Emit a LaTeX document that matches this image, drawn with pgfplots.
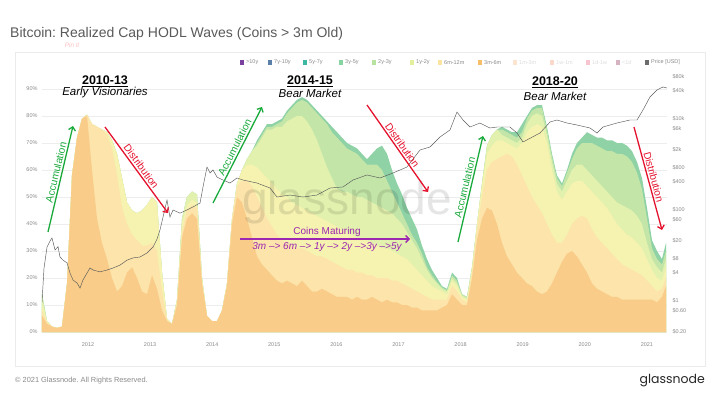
\documentclass[border=0pt]{standalone}
\usepackage{fontspec}
\setmainfont{Liberation Sans}
\newfontfamily\logofont{Poppins}
\usepackage{pgfplots}
\usepackage{pgfplotstable}
\pgfplotsset{compat=1.18}
\usetikzlibrary{arrows.meta}
\frenchspacing

\definecolor{Lc1}{HTML}{F9CC89}
\definecolor{Lc2}{HTML}{FCE4AA}
\definecolor{Lc3}{HTML}{F6F2B0}
\definecolor{Lc4}{HTML}{E2F1AE}
\definecolor{Lc5}{HTML}{C3E6A8}
\definecolor{Lc6}{HTML}{8ED2A6}
\definecolor{accg}{HTML}{1AAA3C}
\definecolor{distr}{HTML}{E5122E}
\definecolor{matur}{HTML}{9C27B0}
\definecolor{gtxt}{HTML}{8A8A8A}

\pgfplotstableread{
yr c1 c2 c3 c4 c5 c6
2011.259 6 8 10 13 14 14
2011.340 3 3.5 4 4 4 4
2011.420 2 2 2 2 2 2
2011.501 1.5 1.5 1.5 1.5 1.5 1.5
2011.581 2 2 2 2 2 2
2011.662 18 18 18 18 18 18
2011.742 58 58 58 58 58 58
2011.823 72 72 72 72 72 72
2011.903 79 79 79 79 79 79
2011.984 80 80.5 80.5 80.5 80.5 80.5
2012.064 60 77 77 77 77 77
2012.145 42 76 76 76 76 76
2012.225 33 75 75 75 75 75
2012.306 27 73 74 74 74 74
2012.386 20 68 71 71 71 71
2012.467 15 58 66 66 66 66
2012.548 17 46 57 57 57 57
2012.628 22 40 48 48 48 48
2012.709 24 36 45 45 45 45
2012.789 20 34 44 44 44 44
2012.870 15 32 45 45 45 45
2012.950 14 32 47 47 47 47
2013.031 21 33 50 50 50 50
2013.111 16 30 48 48 48 48
2013.192 8 15 22 22 22 22
2013.272 4 4.5 5 5 5 5
2013.353 3 3 3 3 3 3
2013.433 10 11 12 12 12 12
2013.514 35 37 40 42 42 42
2013.594 42 45 47 50 50 50
2013.675 44 47 49 52 52 52
2013.755 42 46 48 51 51 51
2013.836 18 19 20 20 20 20
2013.916 6 6 6 6 6 6
2013.997 4 4 4 4 4 4
2014.077 4 4 4 4 4 4
2014.158 8 8 8 8 8 8
2014.238 17 18 18 18 18 18
2014.319 40 42 42 42 42 42
2014.399 50 54 55 55 55 55
2014.480 48 56 60 60 60 60
2014.560 42 56 62 64 64 64
2014.641 35 54 62 67 67 67
2014.721 28 50 61 69 70 71
2014.802 25 46 59 72 73 74
2014.882 23 42 57 75 76 77
2014.963 21 39 55 75 76 77
2015.043 19 36 53 76 77 78
2015.124 18 34 51 76 78 79
2015.205 19 33 50 78 81 82
2015.285 18 32 48 79 83 84
2015.366 17 31 47 80 85 86
2015.446 19 31 46 80 86 87
2015.527 17 30 45 78 85 86
2015.607 15 29 44 75 83 84
2015.688 15 28 43 71 81 82
2015.768 16 28 42 66 79 80
2015.849 15 27 41 61 77 78
2015.929 14 26 40 57 74 76
2016.010 13 25 39 53 72 74
2016.090 13 24 38 52 70 72
2016.171 13 23 37 52 68 70
2016.251 12 23 36 51 67 69
2016.332 13 22 35 50 66 68
2016.412 12 22 35 50 64 66
2016.493 12 21 34 49 62 64
2016.573 13 21 33 48 62 66
2016.654 12 20 32 47 62 68
2016.734 11 20 31 46 60 69
2016.815 12 20 31 45 56 66
2016.895 11 19 30 44 52 60
2016.976 11 19 29 42 48 55
2017.056 10 18 28 40 44 51
2017.137 10 17 27 37 40 46
2017.217 9 16 25 34 36 42
2017.298 9 15 23 31 33 38
2017.378 8 14 21 27 29 32
2017.459 8 13 19 23 24 27
2017.539 8 12 17 20 21 23
2017.620 8 12 16 18 18.5 20
2017.700 9 12 15 16 16.5 17
2017.781 10 12 14 15 15.5 16
2017.862 14 17 19 20 21 22
2017.942 12 15 17 18 19 20
2018.023 10 12 13 13.5 14 14
2018.103 10 11 12 12.5 13 13
2018.184 20 22 23 24 24 24
2018.264 34 38 40 40 40 40
2018.345 42 50 54 55 55 55
2018.425 46 60 66 69 69 69
2018.506 45 63 69 73 73 73
2018.586 40 64 71 75 75 75
2018.667 33 65 71 73 75 76
2018.747 28 66 70 72 74 75
2018.828 25 65 69 71 73 74
2018.908 22 62 68 70 72 74
2018.989 20 58 70 72 74 77
2019.069 18 54 74 77 79 80
2019.150 17 50 76 80 82 83
2019.230 15 47 77 81 83 84
2019.311 14 44 76 80 83 84
2019.391 15 40 70 73 75 76
2019.472 18 36 60 63 65 66
2019.552 22 33 52 55 57 58
2019.633 26 33 49 52 54 55
2019.713 29 36 52 56 59 60
2019.794 30 40 55 60 64 66
2019.874 28 42 56 62 68 70
2019.955 25 43 56 62 70 72
2020.035 22 42 54 60 70 74
2020.116 18 38 52 58 70 73
2020.196 16 35 50 56 69 72
2020.277 15 33 48 54 68 72
2020.357 14 31 46 52 67 71
2020.438 13 29 43 50 67 71
2020.519 13 27 40 48 66 70
2020.599 12 25 38 47 66 70
2020.680 12 24 36 46 65 69
2020.760 12 23 35 45 63 67
2020.841 12 22 33 43 59 63
2020.921 12 21 31 40 53 57
2021.002 12 19 27 33 42 46
2021.082 12 17 23 27 31 34
2021.163 11 15 20 24 27 30
2021.243 13 16 19 22 25 27
2021.308 17 20 24 27 30 33
}\hodl

\pgfplotstableread{
yr p
2011.259 0.9
2011.291 5
2011.340 14.8
2011.388 20
2011.420 23.3
2011.469 12.7
2011.517 15
2011.549 8.9
2011.597 7.6
2011.662 6.6
2011.710 3.96
2011.758 2.78
2011.823 2.39
2011.871 1.85
2011.919 2.78
2011.984 3.96
2012.032 5.1
2012.081 4.6
2012.193 4.2
2012.306 4.6
2012.403 5.1
2012.515 5.9
2012.628 7.6
2012.725 8.5
2012.837 8.9
2012.950 10.9
2013.047 14.8
2013.111 22
2013.159 35
2013.208 67
2013.272 159
2013.320 67
2013.369 96
2013.481 82
2013.594 96
2013.691 112
2013.804 137
2013.852 308
2013.916 846
2013.965 625
2014.013 727
2014.077 510
2014.174 438
2014.287 376
2014.399 485
2014.496 438
2014.721 376
2014.931 292
2015.043 185
2015.253 205
2015.462 185
2015.688 205
2015.897 292
2016.106 308
2016.267 438
2016.493 565
2016.702 485
2016.911 625
2017.137 846
2017.346 2000
2017.507 2328
2017.668 3860
2017.829 5508
2017.942 13680
2018.039 9126
2018.151 6400
2018.312 7840
2018.473 6094
2018.586 6400
2018.795 6400
2018.908 4730
2019.005 3000
2019.279 4730
2019.440 8246
2019.552 9126
2019.713 7840
2019.874 7080
2020.084 6094
2020.196 4730
2020.293 6400
2020.519 7840
2020.728 9126
2020.841 9126
2020.937 15140
2021.050 29240
2021.163 41680
2021.260 48520
2021.324 46100
}\price

\begin{document}
\begin{tikzpicture}
\path[use as bounding box] (0pt,0pt) rectangle (721pt,-399pt);
\draw[black!8, line width=0.6pt] (15pt,-52pt) rectangle (705pt,-366pt);

\begin{axis}[at={(42pt,-332pt)}, anchor=south west, scale only axis,
  width=625pt, height=270pt,
  xmin=2011.259, xmax=2021.324, ymin=0, ymax=100,
  axis line style={draw=none}, major tick length=0pt, minor tick length=0pt,
  ytick={0,10,20,30,40,50,60,70,80,90},
  yticklabels={0\%,10\%,20\%,30\%,40\%,50\%,60\%,70\%,80\%,90\%},
  xtick={2012,2013,2014,2015,2016,2017,2018,2019,2020,2021},
  xticklabels={2012,2013,2014,2015,2016,2017,2018,2019,2020,2021},
  ytick pos=left, xtick pos=bottom,
  ymajorgrids, grid style={black!7, line width=0.4pt},
  tick label style={font=\fontsize{5.5}{6}\selectfont, text=gtxt},
  xticklabel style={yshift=-7pt},
  yticklabel style={xshift=-1pt},
]
\addplot[draw=none, fill=Lc6] table[x=yr,y=c6]{\hodl} \closedcycle;
\addplot[draw=none, fill=Lc5] table[x=yr,y=c5]{\hodl} \closedcycle;
\addplot[draw=none, fill=Lc4] table[x=yr,y=c4]{\hodl} \closedcycle;
\addplot[draw=none, fill=Lc3] table[x=yr,y=c3]{\hodl} \closedcycle;
\addplot[draw=none, fill=Lc2] table[x=yr,y=c2]{\hodl} \closedcycle;
\addplot[draw=none, fill=Lc1] table[x=yr,y=c1]{\hodl} \closedcycle;
\end{axis}

\begin{axis}[at={(42pt,-332pt)}, anchor=south west, scale only axis,
  width=625pt, height=270pt,
  xmin=2011.259, xmax=2021.324, ymode=log, ymin=0.2, ymax=171800,
  axis line style={draw=none}, major tick length=0pt, minor tick length=0pt,
  xtick=\empty, ytick pos=right,
  ytick={0.2,0.6,1,4,8,20,60,100,400,800,2000,6000,10000,40000,80000},
  yticklabels={\$0.20,\$0.60,\$1,\$4,\$8,\$20,\$60,\$100,\$400,\$800,\$2k,\$6k,\$10k,\$40k,\$80k},
  tick label style={font=\fontsize{5.5}{6}\selectfont, text=gtxt},
  yticklabel style={anchor=west, xshift=2pt},
]
\addplot[black!65, line width=0.45pt] table[x=yr,y=p]{\price};
\end{axis}

\begin{scope}[x=1pt,y=-1pt]
\node[anchor=base west, inner sep=0pt, font=\fontsize{14}{15}\selectfont, text=black!65] at (10,37) {Bitcoin: Realized Cap HODL Waves (Coins > 3m Old)};
\node[font=\fontsize{6.5}{7}\selectfont\itshape, text=red!25] at (72,45) {Pin it};

% watermark
\node[font=\fontsize{46}{46}\selectfont, text=black, opacity=0.10] at (347,203) {glassnode};

% legend
\foreach \xx/\cc/\lab/\op in {242/7B3F9E/>10y/1, 270/5A7FA8/7y-10y/1, 305/3BB7A4/5y-7y/1, 341/86D4A0/3y-5y/1, 374/B8E29F/2y-3y/1, 412/E4EF9E/1y-2y/1, 440/FBE3A0/6m-12m/1, 480/F6BE6A/3m-6m/1, 515/F4A460/1m-3m/0.3, 552/F08050/1w-1m/0.3, 588/E04060/1d-1w/0.3, 618/7A0030/<1d/0.3, 647/6B6B6B/Price [USD]/1}{
  \definecolor{tmpc}{HTML}{\cc}
  \fill[tmpc, opacity=\op] (\xx-2.2,60.3) rectangle (\xx+2.2,64.7);
  \node[anchor=west, inner sep=0pt, font=\fontsize{5.5}{6}\selectfont, text=gtxt, opacity=\op] at (\xx+4,62.5) {\lab};
}

% period titles
\node[font=\fontsize{12.5}{13}\selectfont\bfseries] at (105,81) {\underline{2010-13}};
\node[font=\fontsize{11.5}{12}\selectfont\itshape] at (105,93) {Early Visionaries};
\node[font=\fontsize{12.5}{13}\selectfont\bfseries] at (310,81) {\underline{2014-15}};
\node[font=\fontsize{11.5}{12}\selectfont\itshape] at (310,93) {Bear Market};
\node[font=\fontsize{12.5}{13}\selectfont\bfseries] at (555,82) {\underline{2018-20}};
\node[font=\fontsize{11.5}{12}\selectfont\itshape] at (555,96) {Bear Market};

% arrows
\tikzset{annarrow/.style={line width=1.3pt, -{Straight Barb[length=3.5pt,width=7pt]}}}
\draw[annarrow, accg] (48,232) -- node[sloped, above, pos=0.55, inner sep=1.5pt, font=\fontsize{10.3}{11}\selectfont, text=accg] {Accumulation} (73,126);
\draw[annarrow, accg] (213,203) -- node[sloped, above, pos=0.55, inner sep=1.5pt, font=\fontsize{10.3}{11}\selectfont, text=accg] {Accumulation} (262,107);
\draw[annarrow, accg] (458,242) -- node[sloped, above, pos=0.5, inner sep=1.5pt, font=\fontsize{10.3}{11}\selectfont, text=accg] {Accumulation} (483,136);
\draw[annarrow, distr] (105,127) -- node[sloped, above, pos=0.5, inner sep=1.5pt, font=\fontsize{10.3}{11}\selectfont, text=distr] {Distribution} (168,213);
\draw[annarrow, distr] (367,105) -- node[sloped, above, pos=0.5, inner sep=1.5pt, font=\fontsize{10.3}{11}\selectfont, text=distr] {Distribution} (428,192);
\draw[annarrow, distr] (634,127) -- node[sloped, above, pos=0.5, inner sep=1.5pt, font=\fontsize{10.3}{11}\selectfont, text=distr] {Distribution} (662,230);
\draw[annarrow, matur] (240,239) -- (410,239);
\node[font=\fontsize{10}{11}\selectfont, text=matur] at (327,232) {Coins Maturing};
\node[font=\fontsize{10}{11}\selectfont\itshape, text=matur] at (327,247) {3m --{}> 6m --{}> 1y --{}> 2y --{}>3y --{}>5y};

% footer
\node[anchor=west, inner sep=0pt, font=\fontsize{7.4}{8}\selectfont, text=gtxt] at (15,381) {© 2021 Glassnode. All Rights Reserved.};
\node[anchor=east, inner sep=0pt, font=\logofont\fontsize{12.5}{13}\selectfont, text=black!85] at (705,381) {glassnode};
\end{scope}
\end{tikzpicture}
\end{document}
